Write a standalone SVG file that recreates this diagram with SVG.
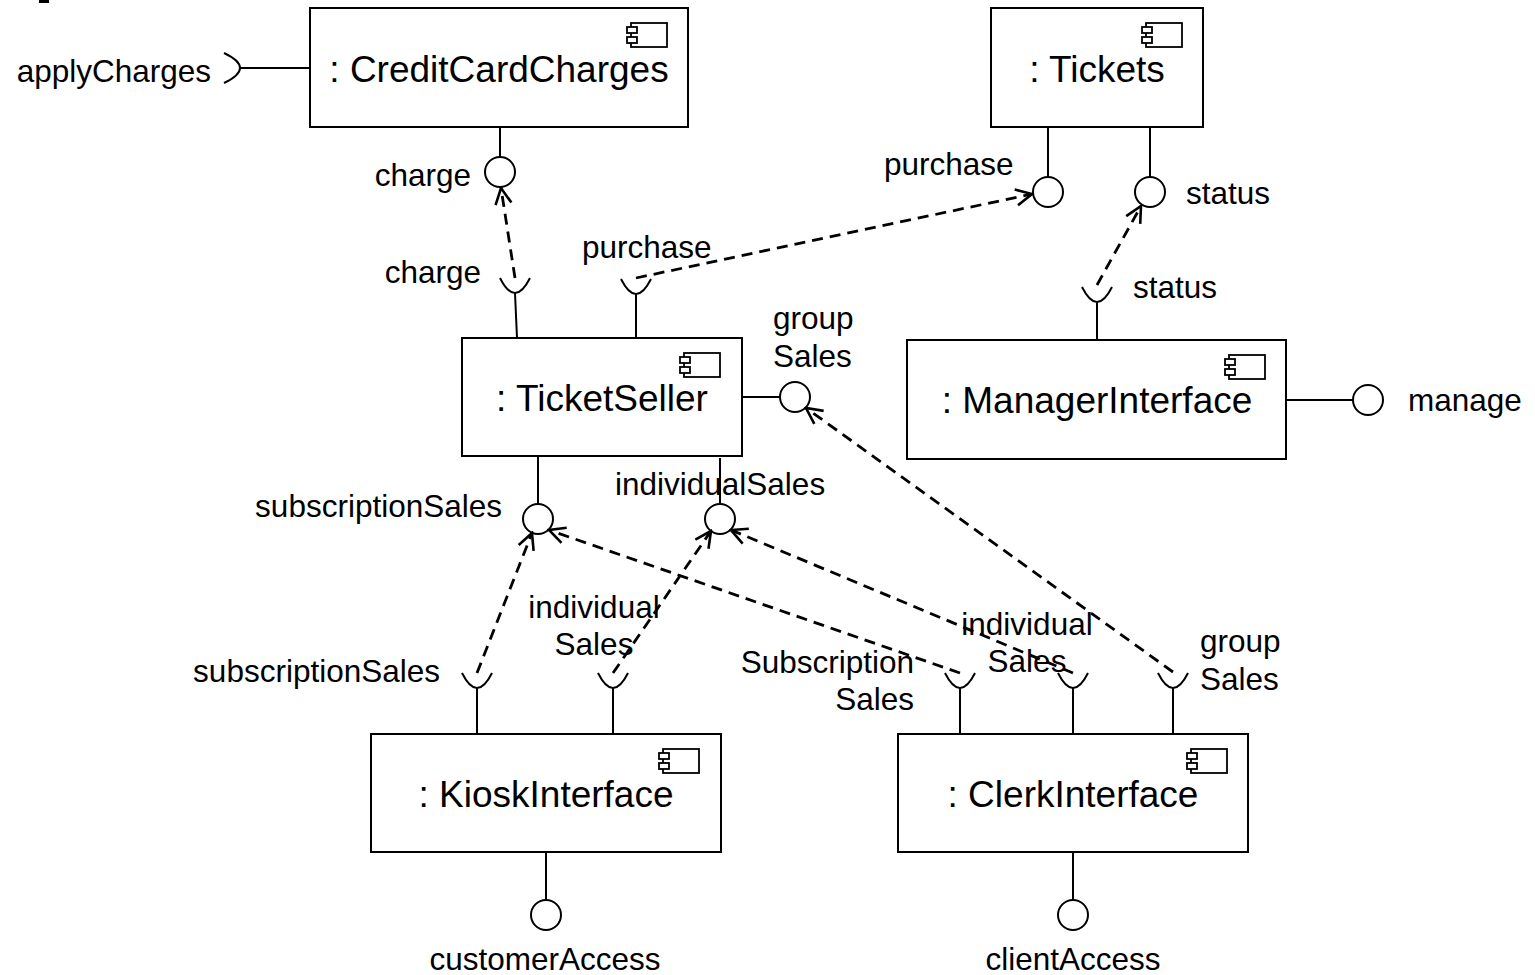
<svg xmlns="http://www.w3.org/2000/svg" width="1535" height="975" viewBox="0 0 1535 975">
<defs>
<style>
.box{fill:#fff;stroke:#000;stroke-width:2}
.ln{fill:none;stroke:#000;stroke-width:2}
.ball{fill:#fff;stroke:#000;stroke-width:2}
.dep{fill:none;stroke:#000;stroke-width:2.8;stroke-dasharray:11 7;marker-end:url(#arr)}
.big{font-family:"Liberation Sans",Arial,sans-serif;font-size:37px;text-anchor:middle;fill:#000}
.lbl{font-family:"Liberation Sans",Arial,sans-serif;font-size:31.5px;fill:#000}
.mid{text-anchor:middle}
.end{text-anchor:end}
.ic{fill:#fff;stroke:#000;stroke-width:1.8}
</style>
<marker id="arr" markerUnits="userSpaceOnUse" viewBox="-20 -11 22 22" refX="0" refY="0" markerWidth="22" markerHeight="22" orient="auto">
<path d="M-16,-8 L0,0 L-16,8" fill="none" stroke="#000" stroke-width="2.6" stroke-dasharray="none"/>
</marker>
<g id="icon">
<rect class="ic" x="4" y="0" width="36" height="24"/>
<rect class="ic" x="0" y="4" width="10" height="6"/>
<rect class="ic" x="0" y="14" width="10" height="6"/>
</g>
</defs>
<rect x="0" y="0" width="1535" height="975" fill="#fff"/>
<rect x="39" y="0" width="10" height="3" fill="#000"/>

<g id="CreditCardCharges">
<line class="ln" x1="240" y1="68" x2="310" y2="68"/>
<path class="ln" d="M224,53 Q256,68 224,83"/>
<line class="ln" x1="500" y1="127" x2="500" y2="157"/>
<circle class="ball" cx="500" cy="172" r="15"/>
<rect class="box" x="310" y="8" width="378" height="119"/>
<use href="#icon" x="627" y="23"/>
<text class="big" x="499" y="82">: CreditCardCharges</text>
</g>

<g id="Tickets">
<line class="ln" x1="1048" y1="127" x2="1048" y2="177"/>
<circle class="ball" cx="1048" cy="192" r="15"/>
<line class="ln" x1="1150" y1="127" x2="1150" y2="177"/>
<circle class="ball" cx="1150" cy="192" r="15"/>
<rect class="box" x="991" y="8" width="212" height="119"/>
<use href="#icon" x="1142" y="23"/>
<text class="big" x="1097" y="82">: Tickets</text>
</g>

<g id="TicketSeller">
<line class="ln" x1="517" y1="338" x2="515" y2="293"/>
<path class="ln" d="M500,278 Q515,308 530,278"/>
<line class="ln" x1="636" y1="338" x2="636" y2="294"/>
<path class="ln" d="M621,279 Q636,309 651,279"/>
<line class="ln" x1="742" y1="397" x2="780" y2="397"/>
<circle class="ball" cx="795" cy="397" r="15"/>
<line class="ln" x1="538" y1="456" x2="538" y2="504"/>
<circle class="ball" cx="538" cy="519" r="15"/>
<line class="ln" x1="720" y1="458" x2="720" y2="504"/>
<circle class="ball" cx="720" cy="519" r="15"/>
<rect class="box" x="462" y="338" width="280" height="118"/>
<use href="#icon" x="680" y="353"/>
<text class="big" x="602" y="411">: TicketSeller</text>
</g>

<g id="ManagerInterface">
<line class="ln" x1="1097" y1="340" x2="1097" y2="302"/>
<path class="ln" d="M1082,287 Q1097,317 1112,287"/>
<line class="ln" x1="1286" y1="400" x2="1353" y2="400"/>
<circle class="ball" cx="1368" cy="400" r="15"/>
<rect class="box" x="907" y="340" width="379" height="119"/>
<use href="#icon" x="1225" y="355"/>
<text class="big" x="1097" y="413">: ManagerInterface</text>
</g>

<g id="KioskInterface">
<line class="ln" x1="477" y1="734" x2="477" y2="688"/>
<path class="ln" d="M462,673 Q477,703 492,673"/>
<line class="ln" x1="613" y1="734" x2="613" y2="688"/>
<path class="ln" d="M598,673 Q613,703 628,673"/>
<line class="ln" x1="546" y1="852" x2="546" y2="900"/>
<circle class="ball" cx="546" cy="915" r="15"/>
<rect class="box" x="371" y="734" width="350" height="118"/>
<use href="#icon" x="659" y="749"/>
<text class="big" x="546" y="807">: KioskInterface</text>
</g>

<g id="ClerkInterface">
<line class="ln" x1="960" y1="734" x2="960" y2="688"/>
<path class="ln" d="M945,673 Q960,703 975,673"/>
<line class="ln" x1="1073" y1="734" x2="1073" y2="688"/>
<path class="ln" d="M1058,673 Q1073,703 1088,673"/>
<line class="ln" x1="1173" y1="734" x2="1173" y2="688"/>
<path class="ln" d="M1158,673 Q1173,703 1188,673"/>
<line class="ln" x1="1073" y1="852" x2="1073" y2="900"/>
<circle class="ball" cx="1073" cy="915" r="15"/>
<rect class="box" x="898" y="734" width="350" height="118"/>
<use href="#icon" x="1187" y="749"/>
<text class="big" x="1073" y="807">: ClerkInterface</text>
</g>

<g id="labels">
<text class="lbl end" x="211" y="82">applyCharges</text>
<text class="lbl end" x="471" y="186">charge</text>
<text class="lbl end" x="481" y="283">charge</text>
<text class="lbl" x="582" y="258">purchase</text>
<text class="lbl" x="884" y="175">purchase</text>
<text class="lbl" x="1186" y="204">status</text>
<text class="lbl" x="1133" y="298">status</text>
<text class="lbl" x="773" y="329">group</text>
<text class="lbl" x="773" y="367">Sales</text>
<text class="lbl" x="1408" y="411">manage</text>
<text class="lbl end" x="502" y="517">subscriptionSales</text>
<text class="lbl" x="615" y="495">individualSales</text>
<text class="lbl end" x="440" y="682">subscriptionSales</text>
<text class="lbl mid" x="594" y="618">individual</text>
<text class="lbl mid" x="594" y="655">Sales</text>
<text class="lbl end" x="914" y="673">Subscription</text>
<text class="lbl end" x="914" y="710">Sales</text>
<text class="lbl mid" x="1027" y="635">individual</text>
<text class="lbl mid" x="1027" y="672">Sales</text>
<text class="lbl" x="1200" y="652">group</text>
<text class="lbl" x="1200" y="690">Sales</text>
<text class="lbl mid" x="545" y="970">customerAccess</text>
<text class="lbl mid" x="1073" y="970">clientAccess</text>
</g>

<g id="connectors">
<path class="dep" d="M515,278 L501,188"/>
<path class="dep" d="M636,278 L1032,194"/>
<path class="dep" d="M1097,285 L1141,206"/>
<path class="dep" d="M477,673 L532,533"/>
<path class="dep" d="M613,673 L711,531"/>
<path class="dep" d="M960,673 L549,530"/>
<path class="dep" d="M1073,673 L731,530"/>
<path class="dep" d="M1173,672 L806,408"/>
</g>
</svg>
